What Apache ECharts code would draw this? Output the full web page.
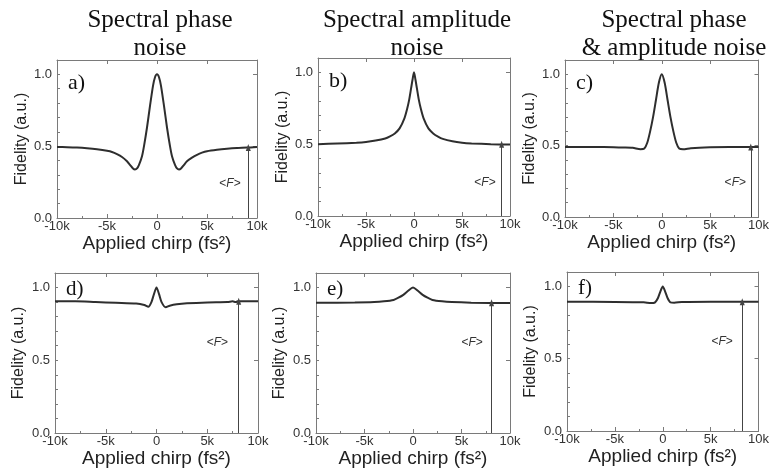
<!DOCTYPE html>
<html>
<head>
<meta charset="utf-8">
<script src="https://cdn.jsdelivr.net/npm/echarts@6/dist/echarts.min.js"></script>
<style>
html, body { margin: 0; padding: 0; background: #fff; }
#chart { width: 772px; height: 471px; }
</style>
</head>
<body>
<div id="chart"></div>
<script>
// column titles and panel letters
var columnTitles = ['Spectral phase\nnoise', 'Spectral amplitude\nnoise', 'Spectral phase\n& amplitude noise'];
var panelLetters = ['a)', 'b)', 'c)', 'd)', 'e)', 'f)'];

// chirp (fs^2) / fidelity readings, one pair of arrays per panel
var chirpA = [-10000, -9000, -8000, -7000, -6000, -5000, -4500, -4000, -3500, -3000, -2700, -2400, -2200, -2000, -1800, -1500, -1300, -1000, -700, -400, -200, 0, 200, 400, 700, 1000, 1300, 1500, 1800, 2000, 2200, 2400, 2700, 3000, 3500, 4000, 4500, 5000, 6000, 7000, 8000, 9000, 10000];
var fidelityA = [0.495, 0.493, 0.49, 0.485, 0.478, 0.468, 0.46, 0.445, 0.425, 0.395, 0.37, 0.345, 0.338, 0.345, 0.37, 0.43, 0.5, 0.63, 0.78, 0.92, 0.98, 1.0, 0.98, 0.92, 0.78, 0.63, 0.5, 0.43, 0.37, 0.345, 0.338, 0.345, 0.37, 0.395, 0.42, 0.44, 0.455, 0.465, 0.475, 0.482, 0.487, 0.49, 0.495];

var chirpB = [-10000, -8000, -6000, -5000, -4000, -3000, -2500, -2000, -1500, -1000, -700, -500, -300, -150, 0, 150, 300, 500, 700, 1000, 1500, 2000, 2500, 3000, 4000, 5000, 6000, 8000, 10000];
var fidelityB = [0.5, 0.505, 0.51, 0.515, 0.525, 0.54, 0.555, 0.575, 0.61, 0.68, 0.75, 0.81, 0.89, 0.95, 1.0, 0.95, 0.89, 0.81, 0.75, 0.68, 0.61, 0.575, 0.553, 0.537, 0.52, 0.51, 0.505, 0.5, 0.497];

var chirpC = [-10000, -6000, -4000, -3000, -2200, -1800, -1500, -1200, -900, -600, -300, 0, 300, 600, 900, 1200, 1500, 1800, 2200, 3000, 5000, 7000, 10000];
var fidelityC = [0.49, 0.49, 0.487, 0.485, 0.475, 0.48, 0.52, 0.6, 0.7, 0.82, 0.94, 1.0, 0.94, 0.82, 0.7, 0.6, 0.52, 0.48, 0.475, 0.482, 0.488, 0.49, 0.49];

var chirpD = [-10000, -8000, -6000, -4000, -2000, -1200, -800, -500, -250, 0, 250, 500, 900, 1300, 2000, 3000, 5000, 7000, 7500, 7800, 8000, 10000];
var fidelityD = [0.905, 0.905, 0.9, 0.895, 0.89, 0.88, 0.868, 0.9, 0.955, 1.0, 0.955, 0.9, 0.865, 0.875, 0.885, 0.892, 0.898, 0.9, 0.905, 0.9, 0.905, 0.905];

var chirpE = [-10000, -6000, -4000, -3000, -2000, -1500, -1000, -500, 0, 500, 1000, 1500, 2000, 3000, 4000, 6000, 10000];
var fidelityE = [0.895, 0.897, 0.9, 0.905, 0.915, 0.93, 0.95, 0.978, 1.0, 0.978, 0.95, 0.93, 0.915, 0.905, 0.9, 0.896, 0.893];

var chirpF = [-10000, -5000, -2000, -1200, -800, -500, -250, 0, 250, 500, 800, 1200, 2000, 5000, 10000];
var fidelityF = [0.895, 0.893, 0.89, 0.885, 0.89, 0.92, 0.965, 1.0, 0.965, 0.92, 0.89, 0.888, 0.893, 0.895, 0.895];

// <F> arrow (chirp position, top value) and label position per panel
var arrowChirp = [9130, 9130, 9200, 8100, 8100, 8300];
var arrowTop = [0.49, 0.5, 0.49, 0.905, 0.895, 0.895];
var labelChirp = [7300, 7400, 7600, 6000, 6100, 6200];
var labelFidelity = [0.24, 0.23, 0.24, 0.62, 0.62, 0.62];

var xTicks = [-10000, -5000, 0, 5000, 10000];
var xTickLabels = ['-10k', '-5k', '0', '5k', '10k'];

var chirps = [chirpA, chirpB, chirpC, chirpD, chirpE, chirpF];
var fidelities = [fidelityA, fidelityB, fidelityC, fidelityD, fidelityE, fidelityF];

// plot boxes in pixels
var boxes = [
  {left: 57, top: 60, width: 200, height: 158},
  {left: 318, top: 58, width: 192, height: 158},
  {left: 565, top: 60, width: 195, height: 157},
  {left: 55, top: 273, width: 203, height: 160},
  {left: 316, top: 273, width: 194, height: 160},
  {left: 567, top: 272, width: 195, height: 159}
];
var titleCenters = [155, 412, 669];

var frameColor = '#7a7a7a';
var textColor = '#333';

var grid = [], xAxis = [], yAxis = [], series = [], title = [];

columnTitles.forEach(function (t, i) {
  title.push({
    text: t,
    left: titleCenters[i],
    top: 1,
    textAlign: 'center',
    textStyle: {fontFamily: 'Liberation Serif', fontSize: 25, fontWeight: 'normal', lineHeight: 28, color: '#111'}
  });
});

boxes.forEach(function (b, i) {
  var bottomRow = i >= 3;
  grid.push({left: b.left, top: b.top, width: b.width, height: b.height, show: false});
  title.push({
    text: panelLetters[i],
    left: b.left + 6,
    top: bottomRow ? b.top + 1 : b.top + 7,
    textStyle: {fontFamily: 'Liberation Serif', fontSize: bottomRow ? 21 : 22, fontWeight: 'normal', color: '#111'}
  });

  var lineCommon = {show: true, onZero: false, lineStyle: {color: frameColor, width: 1}};
  // bottom x axis
  xAxis.push({
    gridIndex: i, type: 'value', position: 'bottom',
    min: -10000, max: 10000, interval: 5000,
    axisLine: lineCommon,
    axisTick: {show: true, inside: true, length: 4, lineStyle: {color: frameColor}},
    minorTick: {show: true, splitNumber: 2, length: 2, lineStyle: {color: frameColor}},
    splitLine: {show: false},
    axisLabel: {
      margin: 2, fontFamily: 'Liberation Sans', fontSize: 13, color: textColor,
      formatter: function (v) { return xTickLabels[xTicks.indexOf(v)]; }
    },
    name: 'Applied chirp (fs²)', nameLocation: 'middle', nameGap: bottomRow ? 9 : 8,
    nameTextStyle: {fontFamily: 'Liberation Sans', fontSize: 19, color: '#222'}
  });
  // mirrored top x axis
  xAxis.push({
    gridIndex: i, type: 'value', position: 'top',
    min: -10000, max: 10000, interval: 5000,
    axisLine: lineCommon,
    axisTick: {show: true, inside: true, length: 4, lineStyle: {color: frameColor}},
    splitLine: {show: false},
    axisLabel: {show: false}
  });
  // left y axis
  yAxis.push({
    gridIndex: i, type: 'value', position: 'left',
    min: 0, max: 1.1, interval: 0.1,
    axisLine: lineCommon,
    axisTick: {show: true, inside: true, length: 3, lineStyle: {color: frameColor}},
    splitLine: {show: false},
    axisLabel: {
      margin: 5, fontFamily: 'Liberation Sans', fontSize: 13, color: textColor,
      formatter: function (v) {
        return Math.abs(v * 2 - Math.round(v * 2)) < 1e-6 && v <= 1.0001 ? v.toFixed(1) : '';
      }
    },
    name: 'Fidelity (a.u.)', nameLocation: 'middle', nameGap: bottomRow ? 28 : 24,
    nameTextStyle: {fontFamily: 'Liberation Sans', fontSize: 16, color: '#222'}
  });
  // mirrored right y axis
  yAxis.push({
    gridIndex: i, type: 'value', position: 'right',
    min: 0, max: 1.1, interval: 0.5,
    axisLine: lineCommon,
    axisTick: {show: true, inside: true, length: 4, lineStyle: {color: frameColor}},
    splitLine: {show: false},
    axisLabel: {show: false}
  });

  var pts = chirps[i].map(function (c, k) { return [c, fidelities[i][k]]; });
  series.push({
    type: 'line',
    xAxisIndex: 2 * i,
    yAxisIndex: 2 * i,
    data: pts,
    smooth: 0.25,
    symbol: 'none',
    lineStyle: {color: '#2e2e2e', width: 2},
    z: 3,
    markLine: {
      silent: true,
      symbol: ['none', 'triangle'],
      symbolSize: [5, 7],
      lineStyle: {color: '#444', width: 1, type: 'solid'},
      label: {show: false},
      data: [[{coord: [arrowChirp[i], 0]}, {coord: [arrowChirp[i], arrowTop[i]]}]]
    },
    markPoint: {
      silent: true,
      symbol: 'circle',
      symbolSize: 0,
      label: {
        show: true,
        position: 'inside',
        formatter: '<{i|F}>',
        fontFamily: 'Liberation Sans', fontSize: 12, color: textColor,
        rich: {i: {fontStyle: 'italic', fontFamily: 'Liberation Sans', fontSize: 12, color: textColor}}
      },
      data: [{coord: [labelChirp[i], labelFidelity[i]]}]
    }
  });
});

var chart = echarts.init(document.getElementById('chart'));
chart.setOption({
  backgroundColor: '#fff',
  animation: false,
  title: title,
  grid: grid,
  xAxis: xAxis,
  yAxis: yAxis,
  series: series
});
</script>
</body>
</html>
